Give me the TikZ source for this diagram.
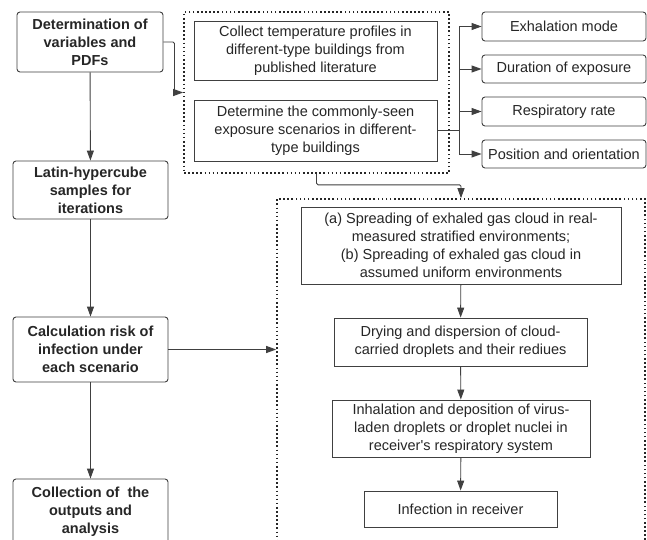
\documentclass[tikz,border=0pt]{standalone}
\usepackage{fontspec}
\setmainfont{Liberation Sans}
\usetikzlibrary{arrows.meta}
\begin{document}
\begin{tikzpicture}[x=1pt,y=-1pt,
 every node/.style={font=\fontsize{14.5}{18}\selectfont, align=center, inner sep=0pt, text=black!85},
 lbox/.style={draw=black!75, line width=0.9pt, rounded corners=3pt, font=\fontsize{14.5}{18}\selectfont\bfseries},
 rbox/.style={draw=black!75, line width=0.9pt, rounded corners=3pt},
 sbox/.style={draw=black!75, line width=0.9pt},
 dbox/.style={draw=black!85, line width=1.6pt, dash pattern=on 1.6pt off 2.5pt},
 arr/.style={draw=black!75, line width=0.9pt, rounded corners=1.5pt, -{Triangle[length=10pt,width=7pt]}},
 ln/.style={draw=black!75, line width=0.9pt}]
\useasboundingbox (0,0) rectangle (647,540);
\clip (0,0) rectangle (647,540);
\fill[white] (0,0) rectangle (647,540);
% left column
\node[lbox, minimum width=146pt, minimum height=60pt] (b1) at (90,42) {Determination of\\variables and\\PDFs};
\node[lbox, minimum width=155pt, minimum height=58pt] (b2) at (90.5,190) {Latin-hypercube\\samples for\\iterations};
\node[lbox, minimum width=155pt, minimum height=65pt] (b3) at (90.5,349.5) {Calculation risk of\\infection under\\each scenario};
\node[lbox, minimum width=155pt, minimum height=66pt] (b4) at (90.5,512) {Collection of~ the\\outputs and\\analysis};
% top dotted group
\node[dbox, minimum width=265pt, minimum height=161pt] (dtop) at (316.5,92.5) {};
\node[sbox, minimum width=243pt, minimum height=59pt] (col) at (315.5,50.5) {Collect temperature profiles in\\different-type buildings from\\published literature};
\node[sbox, minimum width=243pt, minimum height=61pt] (det) at (315.5,130.5) {Determine the commonly-seen\\exposure scenarios in different-\\type buildings};
% right boxes
\node[rbox, minimum width=164pt, minimum height=29pt] (r1) at (564,26.5) {Exhalation mode};
\node[rbox, minimum width=164pt, minimum height=28pt] (r2) at (564,69) {Duration of exposure};
\node[rbox, minimum width=164pt, minimum height=29pt] (r3) at (564,111.5) {Respiratory rate};
\node[rbox, minimum width=164pt, minimum height=28pt] (r4) at (564,154) {Position and orientation};
% bottom dotted group
\node[dbox, minimum width=368pt, minimum height=346pt] (dbot) at (461,372) {};
\node[sbox, minimum width=320pt, minimum height=77pt] (sa) at (461,245.5) {(a) Spreading of exhaled gas cloud in real-\\measured stratified environments;\\(b) Spreading of exhaled gas cloud in\\assumed uniform environments};
\node[sbox, minimum width=253pt, minimum height=48pt] (dry) at (460.5,342) {Drying and dispersion of cloud-\\carried droplets and their rediues};
\node[sbox, minimum width=258pt, minimum height=57pt] (inh) at (461,428.5) {Inhalation and deposition of virus-\\laden droplets or droplet nuclei in\\receiver\textquotesingle s respiratory system};
\node[sbox, minimum width=193pt, minimum height=36pt] (inf) at (460.5,509) {Infection in receiver};
% connectors
\draw[arr] (b1) -- (b2);
\draw[arr] (b2) -- (b3);
\draw[arr] (b3) -- (b4);
\draw[arr] (b1.east) -- ++(11,0) |- (dtop.west);
\draw[arr] (b3.east) -- (b3.east -| dbot.west);
\draw[ln] (det.east) -- ++(22,0) coordinate (j);
\draw[ln, rounded corners=1.5pt] (j |- r1.west) -- (j |- r4.west);
\foreach \r in {r1,r2,r3,r4} \draw[arr] (j |- \r.west) -- (\r.west);
\draw[arr] (dtop.south) -- ++(0,11) -| (dbot.north);
\draw[arr] (sa) -- (dry);
\draw[arr] (dry) -- (inh);
\draw[arr] (inh) -- (inf);
\end{tikzpicture}
\end{document}
